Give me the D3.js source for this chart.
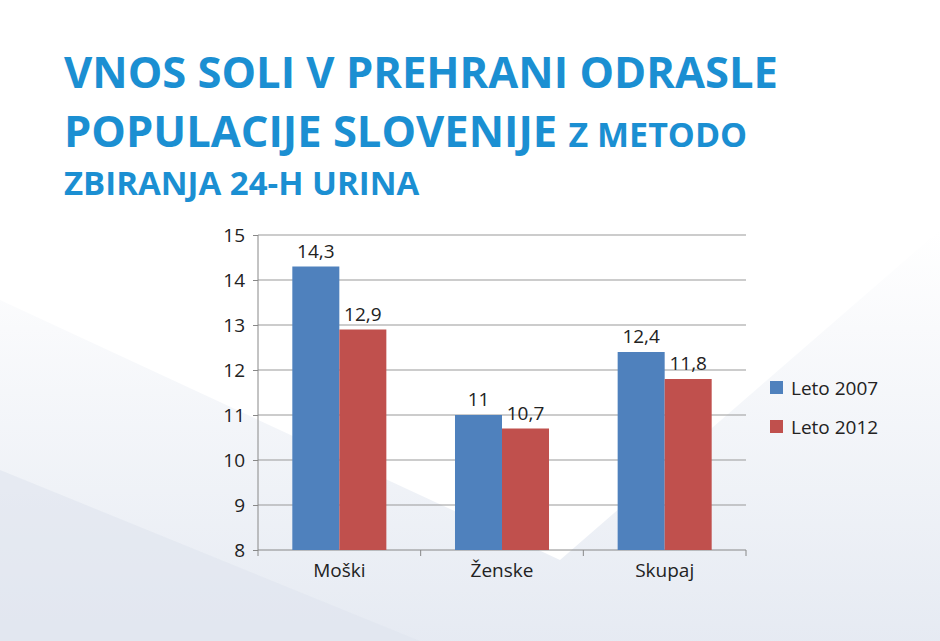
<!DOCTYPE html>
<html><head><meta charset="utf-8">
<script src="https://cdn.jsdelivr.net/npm/d3@7"></script>
<style>body{margin:0;background:#fff}svg{display:block}</style>
</head><body><div id="chart"></div>
<script>
const kategorije = ['Moški', 'Ženske', 'Skupaj']
const serije = ['Leto 2007', 'Leto 2012']
const leto2007 = [14.3, 11, 12.4]
const leto2012 = [12.9, 10.7, 11.8]
const oznake = [['14,3', '11', '12,4'], ['12,9', '10,7', '11,8']]
const barve = ['#4f81bd', '#c0504d']

const W = 940, H = 641
const svg = d3.select('#chart').append('svg').attr('width', W).attr('height', H)

/* ozadje */
const defs = svg.append('defs')
const g1 = defs.append('linearGradient').attr('id', 'bg').attr('x1', 0).attr('y1', 0).attr('x2', 0).attr('y2', 1)
g1.append('stop').attr('offset', 0).attr('stop-color', '#fff')
g1.append('stop').attr('offset', 1).attr('stop-color', '#e3e8f1')
svg.append('rect').attr('width', W).attr('height', H).attr('fill', '#fff')
svg.append('path').attr('d', `M0,300 L0,${H} L${W},${H} L${W},230 L560,560 Z`).attr('fill', 'url(#bg)').attr('opacity', 0.9)
svg.append('path').attr('d', `M0,470 L0,${H} L420,${H} Z`).attr('fill', '#dfe4ee').attr('opacity', 0.6)

/* naslov */
const naslov = svg.append('g').attr('fill', '#1b8fd2').attr('font-family', 'Open Sans, sans-serif').attr('font-weight', 700)
naslov.append('text').attr('x', 64).attr('y', 88).attr('font-size', 43.5).text('VNOS SOLI V PREHRANI ODRASLE')
const t2 = naslov.append('text').attr('x', 64).attr('y', 147).attr('font-size', 43.5)
t2.append('tspan').text('POPULACIJE SLOVENIJE ')
t2.append('tspan').attr('font-size', 34).text('Z METODO')
naslov.append('text').attr('x', 64).attr('y', 195).attr('font-size', 33).text('ZBIRANJA 24-H URINA')

/* graf */
const x0 = d3.scaleBand().domain(kategorije).range([258, 746])
const x1 = d3.scaleBand().domain(serije).range([0, x0.bandwidth()]).paddingInner(0).paddingOuter(0.73)
const y = d3.scaleLinear().domain([8, 15]).range([550, 235])

const grid = svg.append('g')
y.ticks(7).forEach(t => {
  grid.append('line').attr('x1', 258).attr('x2', 746).attr('y1', y(t)).attr('y2', y(t))
    .attr('stroke', t === 8 ? '#888' : '#999').attr('stroke-width', 1)
})
svg.append('line').attr('x1', 258).attr('x2', 258).attr('y1', y(15)).attr('y2', y(8)).attr('stroke', '#888')

const os = svg.append('g').attr('transform', 'translate(258,0)')
  .call(d3.axisLeft(y).ticks(7).tickSize(5).tickPadding(8))
os.select('.domain').remove()
os.selectAll('line').attr('stroke', '#888')
os.selectAll('text').attr('font-size', 19).attr('font-family', 'Open Sans, sans-serif').attr('fill', '#222')

const osX = svg.append('g').attr('transform', 'translate(0,550)')
  .call(d3.axisBottom(x0).tickSize(0).tickPadding(14))
osX.select('.domain').remove()
osX.selectAll('text').attr('font-size', 19).attr('font-family', 'Open Sans, sans-serif').attr('fill', '#222')
kategorije.concat(['']).forEach((k, i) => {
  const xx = 258 + i * x0.step()
  svg.append('line').attr('x1', xx).attr('x2', xx).attr('y1', 550).attr('y2', 556).attr('stroke', '#888')
})

const vrednosti = [leto2007, leto2012]
serije.forEach((s, si) => {
  kategorije.forEach((k, ki) => {
    const v = vrednosti[si][ki]
    const bx = x0(k) + x1(s)
    svg.append('rect').attr('x', bx).attr('y', y(v)).attr('width', x1.bandwidth()).attr('height', y(8) - y(v)).attr('fill', barve[si])
    svg.append('text').attr('x', bx + x1.bandwidth() / 2).attr('y', y(v) - 9).attr('text-anchor', 'middle')
      .attr('font-size', 19).attr('font-family', 'Open Sans, sans-serif').attr('fill', '#222').text(oznake[si][ki])
  })
})

/* legenda */
serije.forEach((s, i) => {
  const ly = 388 + i * 39
  svg.append('rect').attr('x', 770).attr('y', ly - 7).attr('width', 13).attr('height', 13).attr('fill', barve[i])
  svg.append('text').attr('x', 791).attr('y', ly + 7).attr('font-size', 19).attr('font-family', 'Open Sans, sans-serif').attr('fill', '#222').text(s)
})
</script></body></html>
